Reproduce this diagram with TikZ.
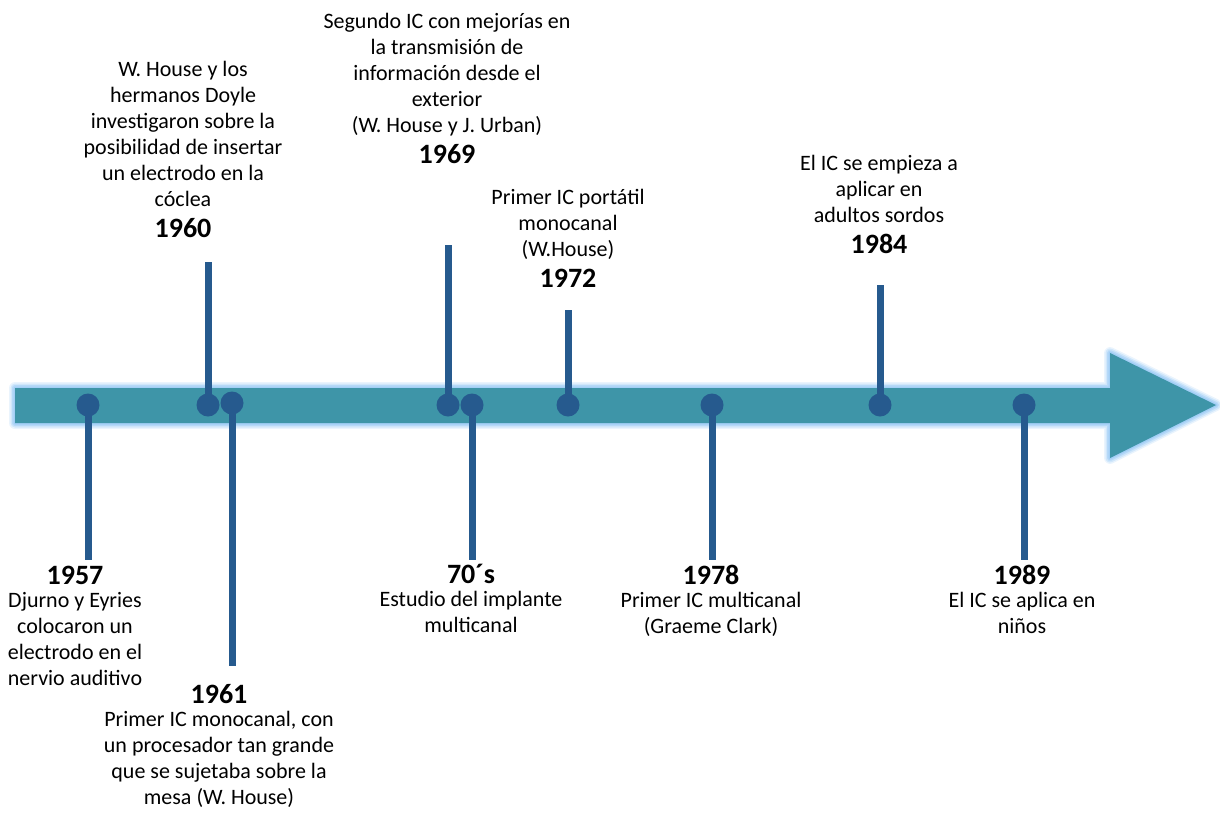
\documentclass[tikz,border=0pt]{standalone}
\usepackage{fontspec}
\setmainfont{Carlito}
\usetikzlibrary{positioning}
\definecolor{bandteal}{RGB}{62,149,168}
\definecolor{markblue}{RGB}{38,90,142}
\definecolor{glowblue}{RGB}{150,200,245}
\tikzset{
  year/.style={font=\fontsize{14}{17}\selectfont\bfseries, anchor=base, inner sep=0pt},
  desc/.style={font=\fontsize{11}{13}\selectfont, align=center, inner sep=0pt,
    execute at begin node=\strut, execute at end node=\strut},
  dot/.style={circle, fill=markblue, minimum size=11.5pt, inner sep=0pt},
  stem/.style={draw=markblue, line width=3.5pt},
}
\begin{document}
\begin{tikzpicture}[x=0.5pt, y=-0.5pt]
    \useasboundingbox (0,0) rectangle (1220,814);

    % band with a soft glow
    \foreach \w/\o in {6/0.2, 4.5/0.3, 3/0.45, 1.5/0.6}
        \draw[glowblue, line width=\w pt, opacity=\o, line join=round]
            (15,388) -- (1110,388) -- (1110,353) -- (1216,405) -- (1110,458) -- (1110,423) -- (15,423) -- cycle;
    \fill[bandteal] (15,388) -- (1110,388) -- (1110,353) -- (1216,405) -- (1110,458) -- (1110,423) -- (15,423) -- cycle;

    % stems
    \coordinate (e57) at (88,560);
    \coordinate (e60) at (208,262);
    \coordinate (e61) at (232,666);
    \coordinate (e69) at (448,245);
    \coordinate (e70) at (472,560);
    \coordinate (e72) at (568,310);
    \coordinate (e78) at (712,560);
    \coordinate (e84) at (880,285);
    \coordinate (e89) at (1024,560);

    \node[dot] (d57) at (88,405) {};
    \node[dot] (d60) at (208,405) {};
    \node[dot] (d61) at (232,403) {};
    \node[dot] (d69) at (448,405) {};
    \node[dot] (d70) at (472,405) {};
    \node[dot] (d72) at (568,405) {};
    \node[dot] (d78) at (712,405) {};
    \node[dot] (d84) at (880,405) {};
    \node[dot] (d89) at (1024,405) {};

    \foreach \n in {57,60,61,69,70,72,78,84,89}
        \draw[stem] (d\n.center) -- (e\n);

    % events above the band
    \node[year] (y60) at (183,237) {1960};
    \node[desc, above=11.1pt of y60.base] (t60) {W. House y los\\hermanos Doyle\\investigaron sobre la\\posibilidad de insertar\\un electrodo en la\\cóclea};

    \node[year] (y69) at (447,163) {1969};
    \node[desc, above=11.1pt of y69.base] (t69) {Segundo IC con mejorías en\\la transmisión de\\información desde el\\exterior\\(W. House y J. Urban)};

    \node[year] (y72) at (568,287) {1972};
    \node[desc, above=11.1pt of y72.base] (t72) {Primer IC portátil\\monocanal\\(W.House)};

    \node[year] (y84) at (879,253) {1984};
    \node[desc, above=11.1pt of y84.base] (t84) {El IC se empieza a\\aplicar en\\adultos sordos};

    % events below the band
    \node[year] (y57) at (75,584) {1957};
    \node[desc, below=3.9pt of y57.base] (t57) {Djurno y Eyries\\colocaron un\\electrodo en el\\nervio auditivo};

    \node[year] (y61) at (219,703) {1961};
    \node[desc, below=3.9pt of y61.base] (t61) {Primer IC monocanal, con\\un procesador tan grande\\que se sujetaba sobre la\\mesa (W. House)};

    \node[year] (y70) at (471,583) {70´s};
    \node[desc, below=3.9pt of y70.base] (t70) {Estudio del implante\\multicanal};

    \node[year] (y78) at (711,584) {1978};
    \node[desc, below=3.9pt of y78.base] (t78) {Primer IC multicanal\\(Graeme Clark)};

    \node[year] (y89) at (1022,584) {1989};
    \node[desc, below=3.9pt of y89.base] (t89) {El IC se aplica en\\niños};
\end{tikzpicture}
\end{document}
